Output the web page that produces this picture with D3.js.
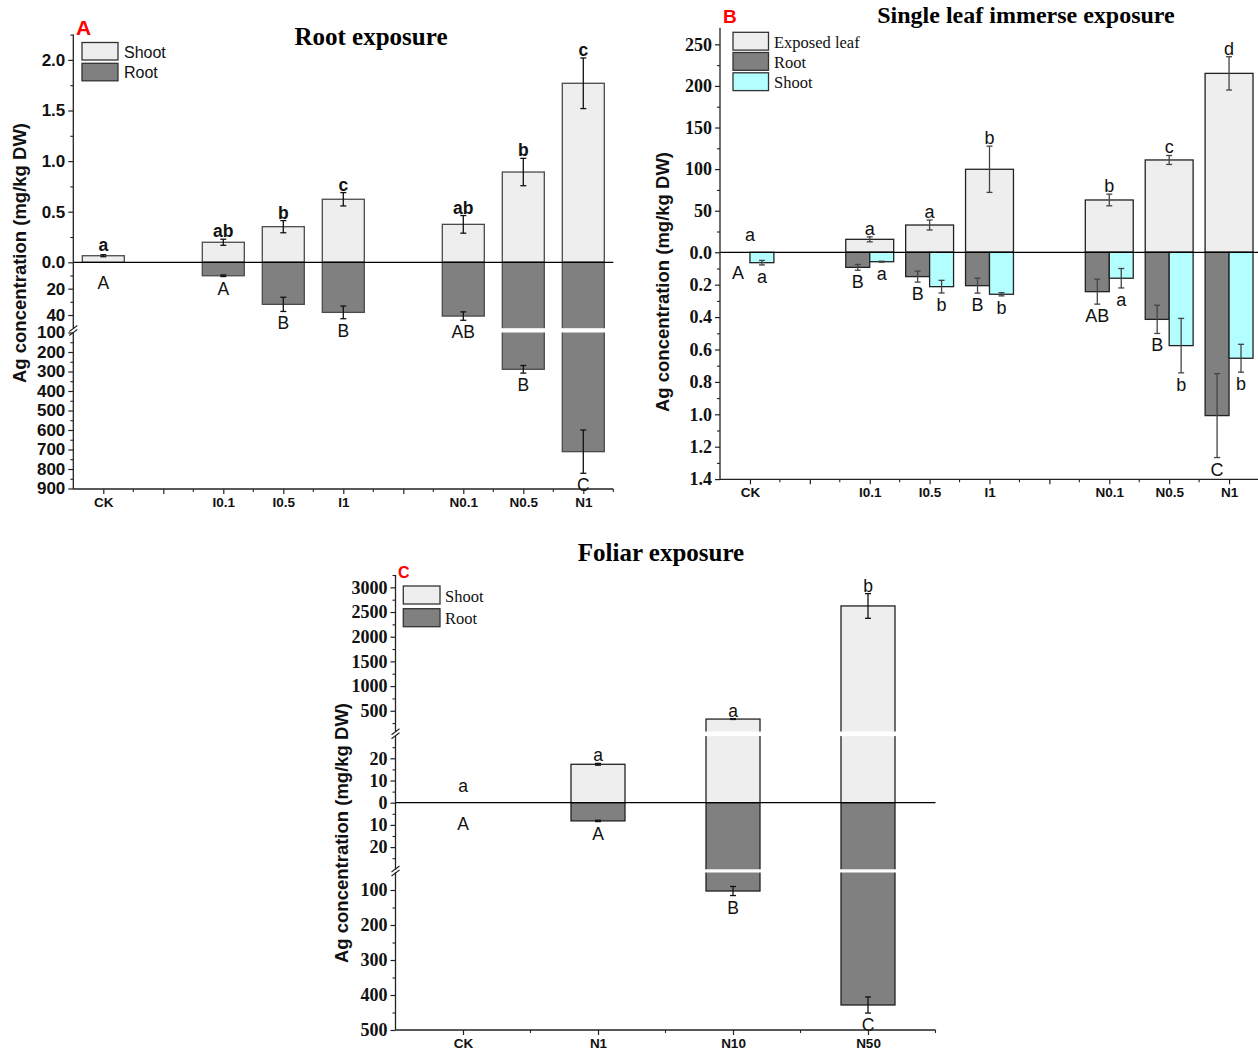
<!DOCTYPE html>
<html><head><meta charset="utf-8">
<script src="https://cdn.jsdelivr.net/npm/d3@7"></script>
<style>body{margin:0;background:#fff}</style>
</head><body>
<svg id="c" width="1258" height="1050" xmlns="http://www.w3.org/2000/svg"></svg>
<script>
// ---------------- DATA ----------------
// Panel A: Root exposure
const slotsA = ["CK","gapA1","I0.1","I0.5","I1","gapA2","N0.1","N0.5","N1"];
const catsA = ["CK","I0.1","I0.5","I1","N0.1","N0.5","N1"];
const shootA = [0.065, 0.198, 0.352, 0.623, 0.375, 0.892, 1.769];
const shootErrA = [0.01, 0.03, 0.06, 0.066, 0.087, 0.135, 0.25];
const shootLetA = ["a","ab","b","c","ab","b","c"];
const rootA = [0, 10.2, 31.9, 38, 40.8, 288.7, 711];
const rootErrA = [0, 0.6, 5.4, 4.8, 3.2, 19.5, 111];
const rootLetA = ["A","A","B","B","AB","B","C"];
const ticksAUp = [0, 0.5, 1.0, 1.5, 2.0];
const minorAUp = [0.25, 0.75, 1.25, 1.75, 2.25];
const ticksADn1 = [20, 40];
const minorADn1 = [10, 30];
const ticksADn2 = [100, 200, 300, 400, 500, 600, 700, 800, 900];
const minorADn2 = [150, 250, 350, 450, 550, 650, 750, 850];

// Panel B: Single leaf immerse exposure
const slotsB = ["CK","gapB1","I0.1","I0.5","I1","gapB2","N0.1","N0.5","N1"];
const catsB = ["CK","I0.1","I0.5","I1","N0.1","N0.5","N1"];
const leafB = [0, 15.6, 32.8, 99.8, 62.9, 111, 215.1];
const leafErrB = [0, 3, 6, 27.8, 7, 5.4, 20];
const leafLetB = ["a","a","a","b","b","c","d"];
const rootB = [0, 0.093, 0.15, 0.206, 0.243, 0.414, 1.008];
const rootErrB = [0, 0.018, 0.034, 0.046, 0.077, 0.087, 0.259];
const rootLetB = ["A","B","B","B","AB","B","C"];
const shootB = [0.064, 0.058, 0.212, 0.259, 0.16, 0.576, 0.654];
const shootErrB = [0.014, 0.003, 0.039, 0.01, 0.06, 0.168, 0.086];
const shootLetB = ["a","a","b","b","a","b","b"];
const ticksBUp = [0, 50, 100, 150, 200, 250];
const minorBUp = [25, 75, 125, 175, 225];
const ticksBDn = [0.2, 0.4, 0.6, 0.8, 1.0, 1.2, 1.4];
const minorBDn = [0.1, 0.3, 0.5, 0.7, 0.9, 1.1, 1.3];

// Panel C: Foliar exposure
const slotsC = ["CK","N1","N10","N50"];
const catsC = ["CK","N1","N10","N50"];
const shootC = [0, 17.3, 332, 2623];
const shootErrC = [0, 0.4, 8, 250];
const shootLetC = ["a","a","a","b"];
const rootC = [0, 8.2, 102.9, 428.6];
const rootErrC = [0, 0.3, 13, 23];
const rootLetC = ["A","A","B","C"];
const ticksCUp1 = [0, 10, 20];
const minorCUp1 = [5, 15, 25];
const ticksCUp2 = [500, 1000, 1500, 2000, 2500, 3000];
const minorCUp2 = [250, 750, 1250, 1750, 2250, 2750, 3250];
const ticksCDn1 = [10, 20];
const minorCDn1 = [5, 15, 25];
const ticksCDn2 = [100, 200, 300, 400, 500];
const minorCDn2 = [150, 250, 350, 450];

// ---------------- STYLE ----------------
const SANS = "'Liberation Sans', Arial, Helvetica, sans-serif";
const SERIF = "'Liberation Serif', 'Times New Roman', Times, serif";
const LIGHT = "#eeeeee", DARK = "#808080", CYAN = "#b3ffff";
const svg = d3.select("#c");

function pieceScale(segs){
  return v => {
    for (const s of segs){
      const [d0, d1] = s.domain();
      if (v < d0) return s(d0);
      if (v <= d1) return s(v);
    }
    return segs[segs.length-1](v);
  };
}

function yAxisSegs(g, segList, axX, font, size){
  segList.forEach(sg => {
    const a = g.append("g").attr("transform", `translate(${axX},0)`)
      .call(d3.axisLeft(sg.scale).tickValues(sg.ticks).tickFormat(sg.fmt).tickSize(5).tickPadding(3));
    a.select(".domain").remove();
    a.selectAll("line").attr("stroke", "#222").attr("stroke-width", 1.2);
    a.selectAll("text").attr("fill", "#111").style("font-family", font).style("font-size", size + "px").style("font-weight", "bold");
    const m = g.append("g").attr("transform", `translate(${axX},0)`)
      .call(d3.axisLeft(sg.scale).tickValues(sg.minor).tickFormat("").tickSize(3));
    m.select(".domain").remove();
    m.selectAll("line").attr("stroke", "#222").attr("stroke-width", 1.1);
  });
}

function drawPanel(p){
  const g = svg.append("g");
  const x = d3.scalePoint().domain(p.slots).range(p.xRange).padding(0.5);
  const step = x.step();
  const up = pieceScale(p.upSegs), dn = pieceScale(p.dnSegs);
  const y0 = up(0);

  // bars
  p.series.forEach(s => {
    const ys = s.side === "up" ? up : dn;
    const segs = s.side === "up" ? p.upSegs : p.dnSegs;
    p.cats.forEach((c, i) => {
      const v = s.vals[i];
      if (v <= 0) return;
      const bx = x(c) + s.x0 * step, bw = s.w * step;
      const yv = ys(v);
      g.append("rect").attr("x", bx).attr("y", Math.min(yv, y0)).attr("width", bw)
        .attr("height", Math.abs(yv - y0)).attr("fill", s.fill)
        .attr("stroke", p.barStroke).attr("stroke-width", 1.3);
      for (let k = 0; k < segs.length - 1; k++){
        const e1 = segs[k].domain()[1], b2 = segs[k+1].domain()[0];
        if (v > e1){
          const ya = segs[k](e1), yb = segs[k+1](b2);
          g.append("rect").attr("x", bx - 1.5).attr("y", Math.min(ya, yb)).attr("width", bw + 3)
            .attr("height", Math.abs(yb - ya)).attr("fill", "#fff");
        }
      }
    });
  });

  // zero line
  g.append("line").attr("x1", p.axX).attr("x2", p.xRange[1]).attr("y1", y0).attr("y2", y0)
    .attr("stroke", "#000").attr("stroke-width", 1.3);

  // error bars + letters
  p.series.forEach(s => {
    const ys = s.side === "up" ? up : dn;
    p.cats.forEach((c, i) => {
      const v = s.vals[i], e = s.errs[i];
      const cx = x(c) + (s.x0 + s.w / 2) * step;
      const yt = ys(v + e), yb = ys(Math.max(v - e, 0));
      if (e > 0){
        const eg = g.append("g").attr("stroke", p.errColor).attr("stroke-width", 1.3);
        eg.append("line").attr("x1", cx).attr("x2", cx).attr("y1", yt).attr("y2", yb);
        eg.append("line").attr("x1", cx - 3).attr("x2", cx + 3).attr("y1", yt).attr("y2", yt);
        eg.append("line").attr("x1", cx - 3).attr("x2", cx + 3).attr("y1", yb).attr("y2", yb);
      }
      let ly;
      if (s.side === "up") ly = Math.min(Math.min(yt, yb) - 2, y0 - 11);
      else ly = Math.max(Math.max(yt, yb) + 18, y0 + 27);
      g.append("text").attr("x", cx).attr("y", ly).attr("text-anchor", "middle")
        .style("font-family", SANS).style("font-size", p.letSize + "px")
        .style("font-weight", s.bold ? "bold" : "normal").attr("fill", "#111")
        .text(s.lets[i]);
    });
  });

  // y axis
  const segsAll = p.upAxis.concat(p.dnAxis);
  yAxisSegs(g, segsAll, p.axX, p.tickFont, p.tickSize);
  // axis line pieces (with gaps at breaks)
  p.axisPieces.forEach(([a, b]) => {
    g.append("line").attr("x1", p.axX).attr("x2", p.axX).attr("y1", a).attr("y2", b)
      .attr("stroke", "#222").attr("stroke-width", 1.3);
  });
  p.breaks.forEach(by => {
    [-2, 2].forEach(o => {
      g.append("line").attr("x1", p.axX - 4).attr("x2", p.axX + 4)
        .attr("y1", by + o + 3).attr("y2", by + o - 3)
        .attr("stroke", "#222").attr("stroke-width", 1.1);
    });
  });

  // x axis
  const xa = g.append("g").attr("transform", `translate(0,${p.xAxisY})`)
    .call(d3.axisBottom(x).tickSize(5).tickFormat(d => p.cats.includes(d) ? d : ""));
  xa.select(".domain").remove();
  xa.selectAll("line").attr("stroke", "#222").attr("stroke-width", 1.2);
  xa.selectAll("text").attr("dy", null).attr("y", 18).attr("fill", "#111")
    .style("font-family", SANS).style("font-size", "13.5px").style("font-weight", "bold");
  p.slots.forEach(sl => {
    const mx = x(sl) + step / 2;
    g.append("line").attr("x1", mx).attr("x2", mx).attr("y1", p.xAxisY).attr("y2", p.xAxisY + 3)
      .attr("stroke", "#222").attr("stroke-width", 1.1);
  });
  g.append("line").attr("x1", p.axX).attr("x2", p.xRange[1]).attr("y1", p.xAxisY).attr("y2", p.xAxisY)
    .attr("stroke", "#222").attr("stroke-width", 1.3);

  // y label
  g.append("text").attr("transform", `translate(${p.yLab[0]},${p.yLab[1]}) rotate(-90)`)
    .attr("text-anchor", "middle").style("font-family", SANS).style("font-size", "18.5px")
    .style("font-weight", "bold").attr("fill", "#111").text("Ag concentration (mg/kg DW)");

  // title
  g.append("text").attr("x", p.title[1]).attr("y", p.title[2]).attr("text-anchor", "middle")
    .style("font-family", SERIF).style("font-size", p.title[3] + "px").style("font-weight", "bold")
    .attr("fill", "#000").text(p.title[0]);

  // panel letter
  g.append("text").attr("x", p.tag[1]).attr("y", p.tag[2]).style("font-family", SANS)
    .style("font-size", p.tag[3] + "px").style("font-weight", "bold").attr("fill", "#ff0000").text(p.tag[0]);

  // legend
  p.legend.items.forEach((it, k) => {
    const ly = p.legend.ys[k];
    g.append("rect").attr("x", p.legend.x).attr("y", ly).attr("width", p.legend.w).attr("height", p.legend.h)
      .attr("fill", it.fill).attr("stroke", "#333").attr("stroke-width", 1.3);
    g.append("text").attr("x", p.legend.tx).attr("y", ly + p.legend.h - 2.5)
      .style("font-family", p.legend.font).style("font-size", p.legend.size + "px")
      .attr("fill", "#111").text(it.label);
  });
}

// ---------- Panel A ----------
const aUp = d3.scaleLinear().domain([0, 2.25]).range([262.3, 34.6]);
const aDn1 = d3.scaleLinear().domain([0, 50]).range([262.3, 328.2]);
const aDn2 = d3.scaleLinear().domain([100, 900]).range([332.5, 488.5]);
drawPanel({
  slots: slotsA, cats: catsA, xRange: [73.3, 613.3], axX: 73.3, xAxisY: 489,
  upSegs: [aUp], dnSegs: [aDn1, aDn2],
  upAxis: [{scale: aUp, ticks: ticksAUp, minor: minorAUp, fmt: d3.format(".1f")}],
  dnAxis: [{scale: aDn1, ticks: ticksADn1, minor: minorADn1, fmt: d3.format("d")},
           {scale: aDn2, ticks: ticksADn2, minor: minorADn2, fmt: d3.format("d")}],
  axisPieces: [[34.6, 328.5], [332.3, 489]], breaks: [330.5],
  tickFont: SANS, tickSize: 17, letSize: 17.5, barStroke: "#4a4a4a", errColor: "#111",
  series: [
    {vals: shootA, errs: shootErrA, lets: shootLetA, side: "up", x0: -0.35, w: 0.7, fill: LIGHT, bold: true},
    {vals: rootA, errs: rootErrA, lets: rootLetA, side: "down", x0: -0.35, w: 0.7, fill: DARK, bold: false}
  ],
  yLab: [26, 253], title: ["Root exposure", 371, 45, 25], tag: ["A", 76, 35, 21],
  legend: {x: 82, w: 36, h: 17.5, ys: [42.5, 63.3], tx: 124, font: SANS, size: 16,
    items: [{label: "Shoot", fill: LIGHT}, {label: "Root", fill: DARK}]}
});

// ---------- Panel B ----------
const bUp = d3.scaleLinear().domain([0, 270]).range([252.3, 27.7]);
const bDn = d3.scaleLinear().domain([0, 1.4]).range([252.3, 479.1]);
drawPanel({
  slots: slotsB, cats: catsB, xRange: [720, 1259], axX: 720, xAxisY: 479.3,
  upSegs: [bUp], dnSegs: [bDn],
  upAxis: [{scale: bUp, ticks: ticksBUp, minor: minorBUp, fmt: d => d === 0 ? "0.0" : d3.format("d")(d)}],
  dnAxis: [{scale: bDn, ticks: ticksBDn, minor: minorBDn, fmt: d3.format(".1f")}],
  axisPieces: [[27.7, 479.3]], breaks: [],
  tickFont: SERIF, tickSize: 18, letSize: 18, barStroke: "#222", errColor: "#444",
  series: [
    {vals: leafB, errs: leafErrB, lets: leafLetB, side: "up", x0: -0.4, w: 0.8, fill: LIGHT, bold: false},
    {vals: rootB, errs: rootErrB, lets: rootLetB, side: "down", x0: -0.4, w: 0.4, fill: DARK, bold: false},
    {vals: shootB, errs: shootErrB, lets: shootLetB, side: "down", x0: 0, w: 0.4, fill: CYAN, bold: false}
  ],
  yLab: [669, 282], title: ["Single leaf immerse exposure", 1026, 23, 24], tag: ["B", 723, 23, 19],
  legend: {x: 733, w: 35.5, h: 17.8, ys: [32.3, 52.5, 72.8], tx: 774, font: SERIF, size: 16.5,
    items: [{label: "Exposed leaf", fill: LIGHT}, {label: "Root", fill: DARK}, {label: "Shoot", fill: CYAN}]}
});

// ---------- Panel C ----------
const cUp1 = d3.scaleLinear().domain([0, 30]).range([802.7, 736.1]);
const cUp2 = d3.scaleLinear().domain([80, 3250]).range([731.5, 575.0]);
const cDn1 = d3.scaleLinear().domain([0, 30]).range([802.7, 869.3]);
const cDn2 = d3.scaleLinear().domain([50, 500]).range([872.5, 1030]);
drawPanel({
  slots: slotsC, cats: catsC, xRange: [395.5, 935.5], axX: 395.5, xAxisY: 1030,
  upSegs: [cUp1, cUp2], dnSegs: [cDn1, cDn2],
  upAxis: [{scale: cUp1, ticks: ticksCUp1, minor: minorCUp1, fmt: d3.format("d")},
           {scale: cUp2, ticks: ticksCUp2, minor: minorCUp2, fmt: d3.format("d")}],
  dnAxis: [{scale: cDn1, ticks: ticksCDn1, minor: minorCDn1, fmt: d3.format("d")},
           {scale: cDn2, ticks: ticksCDn2, minor: minorCDn2, fmt: d3.format("d")}],
  axisPieces: [[575, 731.8], [735.8, 869.5], [872.3, 1030]], breaks: [733.8, 871],
  tickFont: SERIF, tickSize: 18, letSize: 17.5, barStroke: "#222", errColor: "#111",
  series: [
    {vals: shootC, errs: shootErrC, lets: shootLetC, side: "up", x0: -0.2, w: 0.4, fill: LIGHT, bold: false},
    {vals: rootC, errs: rootErrC, lets: rootLetC, side: "down", x0: -0.2, w: 0.4, fill: DARK, bold: false}
  ],
  yLab: [348, 833], title: ["Foliar exposure", 661, 561, 25], tag: ["C", 398, 578, 16],
  legend: {x: 403.3, w: 36.7, h: 18, ys: [586, 608.7], tx: 445, font: SERIF, size: 16.5,
    items: [{label: "Shoot", fill: LIGHT}, {label: "Root", fill: DARK}]}
});
</script>
</body></html>
